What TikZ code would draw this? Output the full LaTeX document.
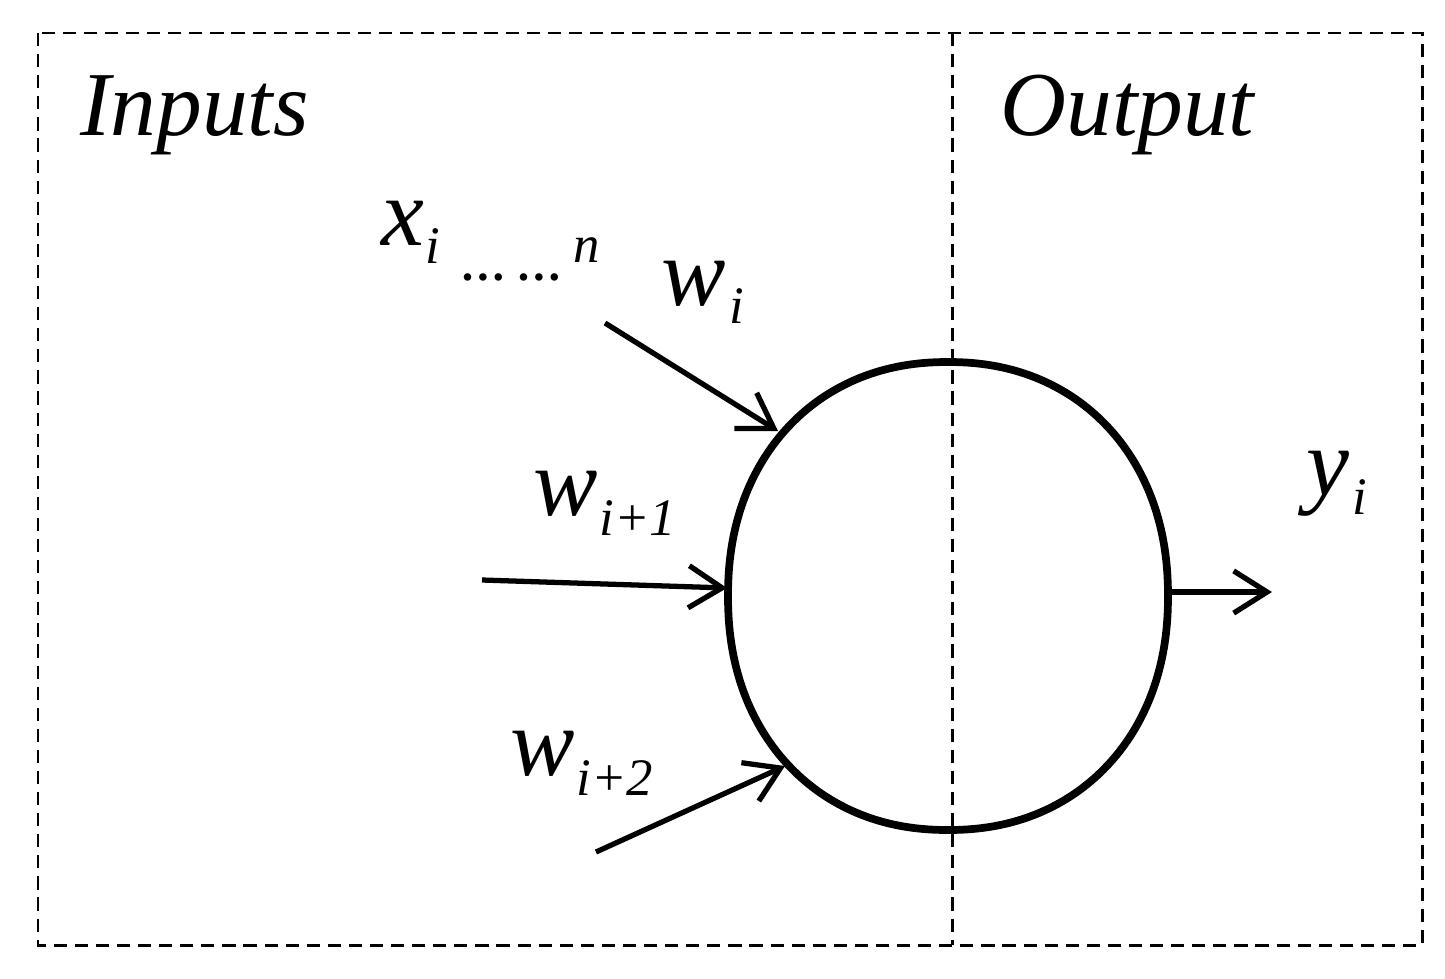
\documentclass[tikz,border=0pt]{standalone}
\usepackage{fontspec}
\setmainfont{Liberation Serif}
\usetikzlibrary{arrows.meta}
\tikzset{
  frame/.style={draw, line width=1.7pt, dash pattern=on 7.5pt off 4.5pt},
  neuron/.style={draw, line width=4.4pt},
  conn/.style={line width=3pt, -{Straight Barb[length=19pt,width=24pt]}},
  big/.style={font=\fontsize{52}{60}\selectfont\itshape, inner sep=0pt, anchor=base west},
  var/.style={font=\fontsize{55}{64}\selectfont\itshape, inner sep=0pt, anchor=base west},
  subs/.style={font=\fontsize{30}{36}\selectfont\itshape, inner sep=0pt, anchor=base west},
  dots/.style={font=\fontsize{26}{30}\selectfont\bfseries, inner sep=0pt, anchor=base west}
}
\begin{document}
\begin{tikzpicture}[x=0.02cm, y=-0.02cm]
\useasboundingbox (0,0) rectangle (1445,978);
% frame
\draw[frame] (38,33) rectangle (1422,945);
\draw[frame] (952,33) -- (952,945);
% neuron body (slightly squared oval)
\coordinate (c) at (948,596);
\draw[neuron, shift={(c)}] plot[smooth cycle, domain=1.5:358.5, samples=120, variable=\t]
  ({220*cos(\t)*abs(cos(\t))^(-0.07)}, {234*sin(\t)*abs(sin(\t))^(-0.07)});
% connector end points
\coordinate (a1) at (605,323);
\coordinate (n1) at (778,431);
\coordinate (a2) at (482,580);
\coordinate (n2) at (727,588);
\coordinate (a3) at (596,852);
\coordinate (n3) at (785,766);
\coordinate (o1) at (1168,592);
\coordinate (o2) at (1272,592);
\draw[conn] (a1) -- (n1);
\draw[conn] (a2) -- (n2);
\draw[conn] (a3) -- (n3);
\draw[conn] (o1) -- (o2);
% labels
\node[big] (inputs) at (80,135) {Inputs};
\node[big] (output) at (1000,135) {Output};
\node[var] (x) at (381,245) {x};
\node[subs] (xi) at (425,263) {i};
\node[dots] (xdots) at (460,280) {…\hspace{6pt}…};
\node[subs] (xn) at (573,262) {n};
\node[var] (w1) at (661,305) {w};
\node[subs] (w1s) at (729,323) {i};
\node[var] (w2) at (533,515) {w};
\node[subs] (w2s) at (599,535) {i+1};
\node[var] (w3) at (510,775) {w};
\node[subs] (w3s) at (576,795) {i+2};
\node[var] (y) at (1306,495) {y};
\node[subs] (ys) at (1352,514) {i};
\end{tikzpicture}
\end{document}
